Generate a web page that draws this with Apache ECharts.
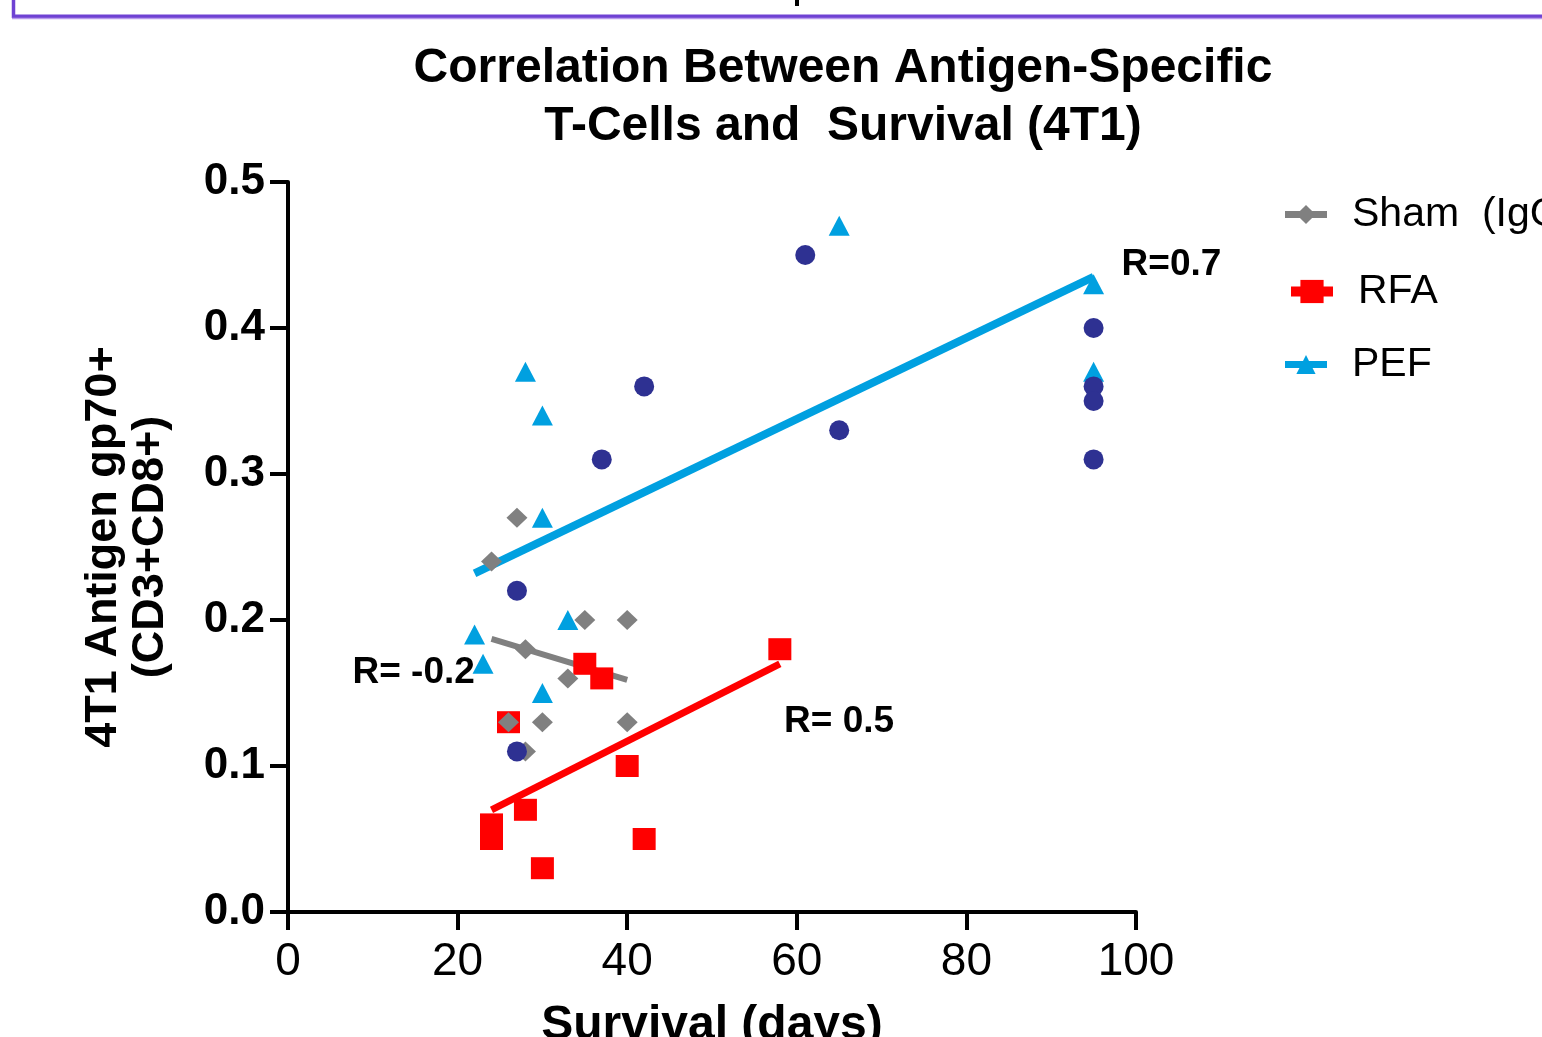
<!DOCTYPE html>
<html>
<head>
<meta charset="utf-8">
<script src="https://cdn.jsdelivr.net/npm/echarts@6/dist/echarts.min.js"></script>
<style>html,body{margin:0;padding:0;background:#fff;overflow:hidden}#c{width:1542px;height:1037px}</style>
</head>
<body>
<div id="c"></div>
<script>
const FONT = '"Liberation Sans", Arial, Helvetica, sans-serif';

const titleText = 'Correlation Between Antigen-Specific\nT-Cells and  Survival (4T1)';
const xAxisTitle = 'Survival (days)';
const yAxisTitle = '4T1 Antigen gp70+\n(CD3+CD8+)';
const yTickLabels = ['0.0', '0.1', '0.2', '0.3', '0.4', '0.5'];
const xTickLabels = ['0', '20', '40', '60', '80', '100'];

const seriesNames = ['Sham  (IgG)', 'RFA', 'PEF'];
const circleName = 'Other';

// Sham (IgG) - gray diamonds
const shamX = [27, 24, 35, 40, 28, 33, 26, 30, 40, 28];
const shamY = [0.27, 0.24, 0.20, 0.20, 0.18, 0.16, 0.13, 0.13, 0.13, 0.11];
// RFA - red squares
const rfaX = [58, 35, 37, 26, 40, 24, 24, 28, 42, 30];
const rfaY = [0.18, 0.17, 0.16, 0.13, 0.10, 0.06, 0.05, 0.07, 0.05, 0.03];
// PEF - blue triangles
const pefX = [65, 95, 95, 28, 30, 30, 33, 22, 23, 30];
const pefY = [0.47, 0.43, 0.37, 0.37, 0.34, 0.27, 0.20, 0.19, 0.17, 0.15];
// dark blue circles
const circX = [61, 95, 42, 95, 95, 65, 37, 95, 27, 27];
const circY = [0.45, 0.40, 0.36, 0.36, 0.35, 0.33, 0.31, 0.31, 0.22, 0.11];

// regression line end points
const pefFitX = [22, 95];
const pefFitY = [0.232, 0.435];
const shamFitX = [24, 40];
const shamFitY = [0.187, 0.159];
const rfaFitX = [24, 58];
const rfaFitY = [0.07, 0.17];

// correlation annotations (left / middle anchor, data units)
const annotTexts = ['R=0.7', 'R= -0.2', 'R= 0.5'];
const annotX = [98.3, 7.6, 58.5];
const annotY = [0.443, 0.164, 0.130];

const C_GRAY = '#808080', C_RED = '#ff0000', C_BLUE = '#00a0e0', C_NAVY = '#2e3192';

const zip = (xs, ys) => xs.map((x, i) => [x, ys[i]]);

function pointSeries(name, xs, ys, symbol, size, color) {
  return {
    name, type: 'line', data: zip(xs, ys),
    symbol, symbolSize: size, showSymbol: true,
    itemStyle: { color, borderWidth: 0 },
    lineStyle: { color, width: 7, opacity: 0 },
    emphasis: { disabled: true },
    animation: false, silent: true
  };
}
function fitSeries(name, xs, ys, color, width) {
  return {
    name, type: 'line', data: zip(xs, ys), symbol: 'none',
    lineStyle: { color, width, cap: 'butt' },
    emphasis: { disabled: true }, animation: false, silent: true
  };
}
function legendFor(name, left, centerY, itemH, lineW, textLeft) {
  return {
    data: [name], orient: 'vertical', padding: 0,
    left: left - lineW / 2, top: centerY - 19,
    itemWidth: 42, itemHeight: itemH, selectedMode: false,
    lineStyle: { width: lineW, opacity: 1 },
    textStyle: { fontSize: 41, fontFamily: FONT, color: '#000', lineHeight: itemH,
                 padding: [0, 0, 0, textLeft] }
  };
}

const chart = echarts.init(document.getElementById('c'), null, { renderer: 'canvas' });
chart.setOption({
  backgroundColor: '#fff',
  animation: false,
  title: {
    text: titleText, left: 838, top: 35, textAlign: 'center',
    textStyle: { fontSize: 48, fontWeight: 'bold', fontFamily: FONT, color: '#000', lineHeight: 58 }
  },
  grid: { left: 288, top: 182, width: 848, height: 730, containLabel: false, outerBoundsMode: 'none' },
  xAxis: {
    type: 'value', min: 0, max: 100, interval: 20,
    name: xAxisTitle, nameLocation: 'middle', nameGap: 90,
    nameTextStyle: { fontSize: 48, fontWeight: 'bold', fontFamily: FONT, color: '#000' },
    axisLine: { show: true, onZero: false, lineStyle: { color: '#000', width: 4 } },
    axisTick: { show: true, length: 18, lineStyle: { color: '#000', width: 4 } },
    axisLabel: { margin: 27, fontSize: 46, fontFamily: FONT, color: '#000',
                 formatter: v => xTickLabels[Math.round(v / 20)] },
    splitLine: { show: false }
  },
  yAxis: {
    type: 'value', min: 0, max: 0.5, interval: 0.1,
    name: yAxisTitle, nameLocation: 'middle', nameGap: 114, nameRotate: 90,
    nameTextStyle: { fontSize: 45, fontWeight: 'bold', fontFamily: FONT, color: '#000', lineHeight: 47 },
    axisLine: { show: true, onZero: false, lineStyle: { color: '#000', width: 4 } },
    axisTick: { show: true, length: 18, lineStyle: { color: '#000', width: 4 } },
    axisLabel: { margin: 23, fontSize: 44, fontWeight: 'bold', fontFamily: FONT, color: '#000',
                 formatter: v => yTickLabels[Math.round(v * 10)] },
    splitLine: { show: false }
  },
  legend: [
    legendFor(seriesNames[0], 1285, 213, 24, 7, 20),
    legendFor(seriesNames[1], 1291, 290, 29, 10, 20),
    legendFor(seriesNames[2], 1285, 363, 24, 7, 20)
  ],
  series: [
    pointSeries(seriesNames[1], rfaX, rfaY, 'rect', [23, 22], C_RED),
    pointSeries(seriesNames[0], shamX, shamY, 'diamond', [21, 20], C_GRAY),
    pointSeries(seriesNames[2], pefX, pefY, 'triangle', [21, 20], C_BLUE),
    pointSeries(circleName, circX, circY, 'circle', 20, C_NAVY),
    fitSeries('PEF fit', pefFitX, pefFitY, C_BLUE, 8),
    fitSeries('Sham fit', shamFitX, shamFitY, C_GRAY, 6),
    fitSeries('RFA fit', rfaFitX, rfaFitY, C_RED, 7)
  ]
});

const annotGraphics = annotTexts.map((t, i) => {
  const p = chart.convertToPixel({ gridIndex: 0 }, [annotX[i], annotY[i]]);
  return {
    type: 'text', x: p[0], y: p[1], z: 100,
    style: { text: t, fontSize: 37, fontWeight: 'bold', fontFamily: FONT, fill: '#000',
             align: 'left', verticalAlign: 'middle' }
  };
});
chart.setOption({
  graphic: [
    { type: 'polyline', shape: { points: [[13.5, 0], [13.5, 16.3], [1542, 16.3]] },
      style: { stroke: '#6f42d3', lineWidth: 3.5, fill: null } },
    { type: 'line', shape: { x1: 12, y1: 18.6, x2: 1542, y2: 18.6 },
      style: { stroke: '#b99bec', lineWidth: 1.5 } },
    { type: 'rect', shape: { x: 795, y: 0, width: 4, height: 6 }, style: { fill: '#000' } }
  ].concat(annotGraphics)
});
</script>
</body>
</html>
